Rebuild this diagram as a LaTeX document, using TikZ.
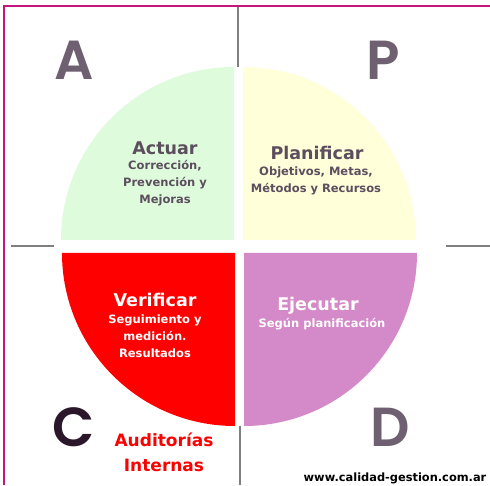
\documentclass[tikz,border=0pt]{standalone}
\usepackage{fontspec}
\setmainfont{DejaVu Sans}
\newfontfamily\letterfont{Poppins}[UprightFont={* SemiBold}]
\definecolor{frame}{RGB}{196,22,122}
\definecolor{tick}{RGB}{128,128,128}
\definecolor{actgreen}{RGB}{222,252,220}
\definecolor{planyellow}{RGB}{255,255,218}
\definecolor{verred}{RGB}{255,0,0}
\definecolor{ejepurple}{RGB}{212,138,200}
\definecolor{lettergray}{RGB}{110,96,112}
\definecolor{letterdark}{RGB}{42,24,42}
\definecolor{textgray}{RGB}{92,78,94}
\tikzset{
  bigletter/.style={font=\letterfont\fontsize{55}{55}\selectfont, text=lettergray},
  quadtitle/.style={font=\bfseries\fontsize{17.5}{20}\selectfont, align=center, inner sep=0pt},
  quadbody/.style={font=\bfseries\fontsize{11.5}{17}\selectfont, align=center, inner sep=0pt},
}
\begin{document}
\begin{tikzpicture}[x=1pt,y=1pt]
    \useasboundingbox (0,0) rectangle (490,485);
    \fill[white] (0,0) rectangle (490,485);
    \draw[frame, line width=2pt] (4,0) -- (4,479) -- (490,479);
    \draw[tick, line width=1.5pt] (238,478) -- (238,418);
    \draw[tick, line width=1.5pt] (240,59) -- (240,0);
    \draw[tick, line width=1.5pt] (11,239) -- (54,239);
    \draw[tick, line width=1.5pt] (446,239) -- (490,239);
    \coordinate (ca) at (234,245);
    \coordinate (cp) at (243,245);
    \coordinate (cc) at (235,232);
    \coordinate (cd) at (244,232);
    \fill[actgreen] (ca) -- ++(0,173) arc[start angle=90, end angle=180, radius=173] -- cycle;
    \fill[planyellow] (cp) -- ++(173,0) arc[start angle=0, end angle=90, radius=173] -- cycle;
    \fill[verred] (cc) -- ++(-173,0) arc[start angle=180, end angle=270, radius=173] -- cycle;
    \fill[ejepurple] (cd) -- ++(0,-173) arc[start angle=270, end angle=360, radius=173] -- cycle;
    \node[bigletter] (la) at (74,425) {A};
    \node[bigletter] (lp) at (383,425) {P};
    \node[bigletter, text=letterdark] (lc) at (74,58) {C};
    \node[bigletter] (ld) at (390,58) {D};
    \node[quadtitle, text=textgray] (actuar) at (165,337) {Actuar};
    \node[quadbody, text=textgray] (actuarb) at (165,302) {Corrección,\\Prevención y\\Mejoras};
    \node[quadtitle, text=textgray] (planif) at (317,332) {Planificar};
    \node[quadbody, text=textgray] (planifb) at (316,304) {Objetivos, Metas,\\Métodos y Recursos};
    \node[quadtitle, text=white] (verif) at (155,185) {Verificar};
    \node[quadbody, text=white] (verifb) at (155,149) {Seguimiento y\\medición.\\Resultados};
    \node[quadtitle, text=white] (ejec) at (318,179) {Ejecutar};
    \node[quadbody, text=white] (ejecb) at (322,161) {Según planificación};
    \node[font=\bfseries\fontsize{17}{25}\selectfont, text=verred, align=center, inner sep=0pt] (audit) at (164,33) {Auditorías\\Internas};
    \node[font=\bfseries\fontsize{11.4}{12}\selectfont, inner sep=0pt] (web) at (395,7) {www.calidad-gestion.com.ar};
\end{tikzpicture}
\end{document}
